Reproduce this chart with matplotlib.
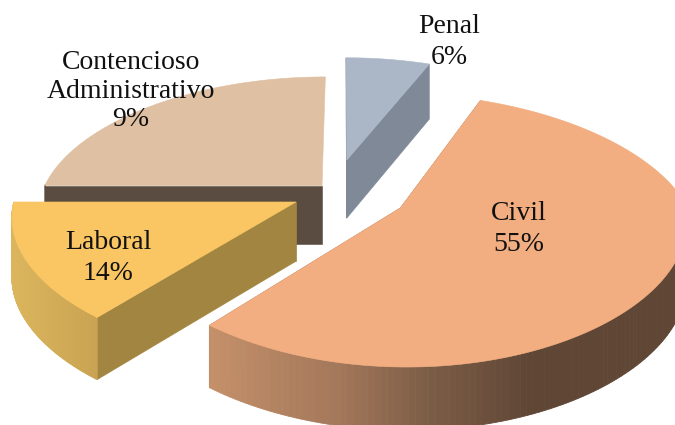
import numpy as np
import matplotlib
matplotlib.use('Agg')
import matplotlib.pyplot as plt
from matplotlib.colors import to_rgb

# sectores en el orden de la torta, desde las 12 en sentido horario
categorias = ['Penal', 'Civil', 'Laboral', 'Contencioso\nAdministrativo']
porcion = [6, 55, 14, 25]
# porcentaje escrito en la etiqueta (el original dice 9% en un sector de 25)
etiqueta_pct = [6, 55, 14, 9]

# desplazamiento de cada sector en el plano de la torta
desp_x = [0.018, 0.206, -0.163, -0.072]
desp_y = [0.26, -0.122, -0.077, 0.05]
col_top = ['#abb7c7', '#f2ae80', '#fac663', '#dfc0a2']
col_cara = ['#7f8998', '#a0725a', '#a28540', '#5a4c40']
# degradado del borde exterior: (x en pixel, color)
grad_borde = [
    [(340, '#7f8998'), (440, '#7f8998')],
    [(210, '#c4906a'), (340, '#a3775a'), (420, '#7f6048'), (530, '#5f4635'), (680, '#5f4635')],
    [(10, '#dcb65e'), (100, '#c9a250')],
    [(40, '#5a4c40'), (330, '#5a4c40')],
]
label_xy = [(449, 42), (519, 229), (108, 258), (131, 91)]
interlinea = [1.36, 1.36, 1.36, 1.17]
orden = [3, 0, 2, 1]  # de atras hacia adelante

# camara: plano de la torta a pixeles
cx, cy, a, b, k = 342, 192, 280, 128, 0.16
alto, k_alto = 59, 0.06


def proj(X, Y, z=0.0):
    w = 1 + k*Y
    wx = 1 + np.where(np.asarray(Y) > 0, 0.20, 0.10)*Y
    return cx + a*X/wx, cy - b*Y/w + z*alto/(1 + k_alto*Y)


def color_borde(i, x):
    xs = [p[0] for p in grad_borde[i]]
    cs = np.array([to_rgb(p[1]) for p in grad_borde[i]])
    return [np.interp(x, xs, cs[:, j]) for j in range(3)]


fig = plt.figure(figsize=(6.75, 4.25), dpi=100)
ax = fig.add_axes([0, 0, 1, 1])
ax.set_xlim(0, 675)
ax.set_ylim(425, 0)
ax.axis('off')

total = sum(porcion)
inicio = np.cumsum([0] + porcion[:-1]) / total * 2*np.pi
ancho = np.array(porcion) / total * 2*np.pi

for i in orden:
    t0, t1 = inicio[i], inicio[i] + ancho[i]
    ox, oy = desp_x[i], desp_y[i]
    t = np.linspace(t0, t1, 160)
    X, Y = ox + np.sin(t), oy + np.cos(t)
    sx, sy = proj(X, Y)
    bx, by = proj(X, Y, 1.0)
    z = 1 + orden.index(i)
    # caras rectas
    ax0, ay0 = proj(ox, oy)
    ax1, ay1 = proj(ox, oy, 1.0)
    for e in (0, -1):
        if i == 3 and e == -1:  # cara de canto, no se ve
            continue
        ax.fill([ax0, sx[e], bx[e], ax1], [ay0, sy[e], by[e], ay1],
                color=col_cara[i], lw=0.4, zorder=z)
    # borde exterior en tiras para el degradado, solo la parte que mira al frente
    for j in range(len(t) - 1):
        if np.cos(t[j]) > 0:
            continue
        c = color_borde(i, (sx[j] + sx[j+1]) / 2)
        ax.fill([sx[j], sx[j+1], bx[j+1], bx[j]], [sy[j], sy[j+1], by[j+1], by[j]],
                color=c, lw=0.6, zorder=z + 0.2)
    # tapa
    ax.fill(np.r_[ax0, sx], np.r_[ay0, sy], color=col_top[i], lw=0.4, zorder=z + 0.5)

for i in range(len(categorias)):
    ax.text(label_xy[i][0], label_xy[i][1], f'{categorias[i]}\n{etiqueta_pct[i]}%',
            ha='center', va='center', family='Liberation Serif', fontsize=20,
            linespacing=interlinea[i], color='#111111', zorder=20)

fig.savefig('out.png', dpi=100)
